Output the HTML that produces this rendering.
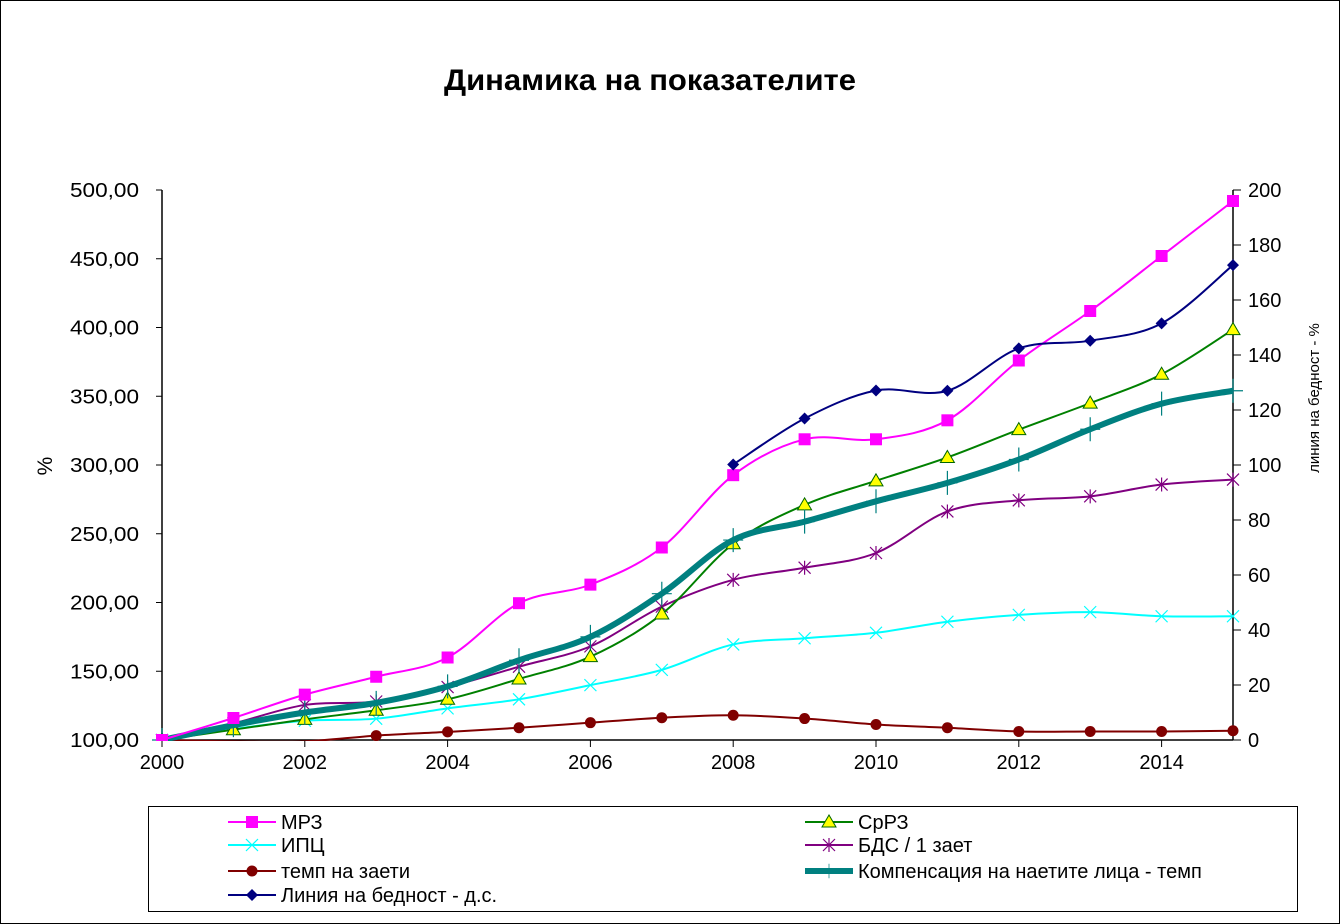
<!DOCTYPE html>
<html><head><meta charset="utf-8"><style>
body{margin:0;background:#fff;}
svg{display:block;font-family:"Liberation Sans",sans-serif;}
</style></head><body>
<svg id="chart" width="1340" height="924" xmlns="http://www.w3.org/2000/svg">
<defs><clipPath id="plotclip"><rect x="140" y="180" width="1115" height="561"/></clipPath></defs>
<rect x="0.5" y="0.5" width="1339" height="923" fill="#fff" stroke="#000" stroke-width="1"/>
<text x="650" y="90" text-anchor="middle" font-size="30" font-weight="bold" textLength="412" lengthAdjust="spacingAndGlyphs">Динамика на показателите</text>
<text transform="translate(52,466) rotate(-90)" text-anchor="middle" font-size="21">%</text>
<text transform="translate(1319,398) rotate(-90)" text-anchor="middle" font-size="15">линия на бедност - %</text>
<g id="axes"></g>
<g id="series" clip-path="url(#plotclip)"></g>
<rect x="148.5" y="806.5" width="1149" height="105" fill="none" stroke="#000"/>
<g id="legend"></g>
</svg>
<script>
const years=[2000,2001,2002,2003,2004,2005,2006,2007,2008,2009,2010,2011,2012,2013,2014,2015];
const leftTicks=[100,150,200,250,300,350,400,450,500];
const rightTicks=[0,20,40,60,80,100,120,140,160,180,200];
const xTicks=[2000,2002,2004,2006,2008,2010,2012,2014];
const mrz=[100,116,133,146,160,199.5,213,240,292.6,318.7,318.7,332.5,376,412,452,492];
const srrz=[100,107.5,115,121.6,129.6,144.4,160.6,191.6,242.7,271,288.5,305.5,325.7,345,366,398.5];
const ipc=[100,108,114,115.5,123,129.6,139.9,151,169.5,174,178,186,191,193,190,190];
const bds=[100,112,125.5,128,138.5,153.3,168.1,197,216.5,225.3,236,266.2,274.3,277.2,285.8,289.4];
const zaeti=[100,99,99,103.2,105.9,108.9,112.6,116.2,118,115.6,111.3,108.9,106.2,106.2,106.2,106.7];
const komp=[100,110.8,120,127,139,158,175,206.4,245.4,258.8,273.6,287,304,326,344.6,354];
const povYears=[2008,2009,2010,2011,2012,2013,2014,2015];
const poverty=[100.2,116.9,127.1,127,142.4,145.2,151.5,172.7];

const NS='http://www.w3.org/2000/svg';
const X0=162,X1=1233,Y0=740,Y1=190;
const xs=y=>X0+(y-2000)/15*(X1-X0);
const yl=v=>Y0-(v-100)/400*(Y0-Y1);
const yr=v=>Y0-v/200*(Y0-Y1);
function mk(tag,attrs,parent){const e=document.createElementNS(NS,tag);for(const k in attrs)e.setAttribute(k,attrs[k]);parent.appendChild(e);return e;}
const axes=document.getElementById('axes');
let e=mk('line',{x1:X0,y1:Y1,x2:X0,y2:Y0,stroke:'#000','stroke-width':1.5},axes);


e=mk('line',{x1:X1,y1:Y1,x2:X1,y2:Y0,stroke:'#000','stroke-width':1.5},axes);


e=mk('line',{x1:X0,y1:Y0,x2:X1,y2:Y0,stroke:'#000','stroke-width':1.5},axes);


leftTicks.forEach(v=>{const y=yl(v);mk('line',{x1:X0-6,y1:y,x2:X0,y2:y,stroke:'#000'},axes);
 const t=mk('text',{x:139,y:y+7,'text-anchor':'end','font-size':20,textLength:69,lengthAdjust:'spacingAndGlyphs'},axes);t.textContent=v.toFixed(2).replace('.',',');
 
 });
rightTicks.forEach(v=>{const y=yr(v);mk('line',{x1:X1,y1:y,x2:X1+8,y2:y,stroke:'#000'},axes);
 const t=mk('text',{x:1248,y:y+7,'font-size':20},axes);t.textContent=v;
 
 });
xTicks.forEach(v=>{const x=xs(v);mk('line',{x1:x,y1:Y0,x2:x,y2:Y0+7,stroke:'#000'},axes);
 const t=mk('text',{x:x,y:Y0+29,'text-anchor':'middle','font-size':20},axes);t.textContent=v;
 
 });

function smooth(pts){let d='M'+pts[0][0]+','+pts[0][1];
 for(let i=0;i<pts.length-1;i++){const p0=pts[Math.max(0,i-1)],p1=pts[i],p2=pts[i+1],p3=pts[Math.min(pts.length-1,i+2)];
 const c1=[p1[0]+(p2[0]-p0[0])/6,p1[1]+(p2[1]-p0[1])/6],c2=[p2[0]-(p3[0]-p1[0])/6,p2[1]-(p3[1]-p1[1])/6];
 d+=' C'+c1+' '+c2+' '+p2;}return d;}
function marker(g,type,x,y,color){
 if(type==='square')return mk('rect',{x:x-6,y:y-6,width:12,height:12,fill:color},g);
 if(type==='tri')return mk('polygon',{points:`${x},${y-7} ${x-7},${y+5} ${x+7},${y+5}`,fill:'#ff0',stroke:'#060','stroke-width':1},g);
 if(type==='x')return mk('path',{d:`M${x-6},${y-6}L${x+6},${y+6}M${x-6},${y+6}L${x+6},${y-6}`,stroke:color,'stroke-width':1.2},g);
 if(type==='star')return mk('path',{d:`M${x-6},${y-6}L${x+6},${y+6}M${x-6},${y+6}L${x+6},${y-6}M${x},${y-7}L${x},${y+7}`,stroke:color,'stroke-width':1.2},g);
 if(type==='circle')return mk('circle',{cx:x,cy:y,r:5.5,fill:color},g);
 if(type==='plus')return mk('path',{d:`M${x},${y-12}L${x},${y+12}M${x-10},${y}L${x+10},${y}`,stroke:color,'stroke-width':1.2},g);
 if(type==='diamond')return mk('polygon',{points:`${x},${y-6} ${x+6},${y} ${x},${y+6} ${x-6},${y}`,fill:color},g);}
const series=document.getElementById('series');
function draw(name,xv,vals,scale,color,w,mt,mc){
 const g=mk('g',{},series);
 
 
 const pts=vals.map((v,i)=>[xs(xv[i]),scale(v)]);
 const p=mk('path',{d:smooth(pts),fill:'none',stroke:color,'stroke-width':w,'stroke-linejoin':'round'},g);
 
 
 pts.forEach(q=>{if(q[1]>Y0+1)return;const m=marker(g,mt,q[0],q[1],mc||color);
  
  });}
draw('zaeti',years,zaeti,yl,'#800000',2,'circle');
draw('ipc',years,ipc,yl,'#00ffff',2,'x');
draw('bds',years,bds,yl,'#800080',2,'star');
draw('srrz',years,srrz,yl,'#008000',2,'tri');
draw('komp',years,komp,yl,'#008080',6,'plus','#008080');
draw('mrz',years,mrz,yl,'#ff00ff',2,'square');
draw('poverty',povYears,poverty,yr,'#000080',2,'diamond');

const leg=document.getElementById('legend');
const items=[['МРЗ','#ff00ff',2,'square',228,822],['СрРЗ','#008000',2,'tri',805,822],
['ИПЦ','#00ffff',2,'x',228,845],['БДС / 1 зает','#800080',2,'star',805,845],
['темп на заети','#800000',2,'circle',228,871],['Компенсация на наетите лица - темп','#008080',6,'plus',805,871],
['Линия на бедност - д.с.','#000080',2,'diamond',228,895]];
items.forEach(it=>{const g=mk('g',{},leg);
 
 
 mk('line',{x1:it[4],y1:it[5],x2:it[4]+48,y2:it[5],stroke:it[1],'stroke-width':it[2]},g);
 const m=marker(g,it[3],it[4]+24,it[5],it[1]);
 if(it[3]==='plus')m.setAttribute('transform',`translate(${it[4]+24},${it[5]}) scale(0.6) translate(${-(it[4]+24)},${-it[5]})`);
 const t=mk('text',{x:it[4]+53,y:it[5]+7,'font-size':20},g);t.textContent=it[0];});
</script>
</body></html>
